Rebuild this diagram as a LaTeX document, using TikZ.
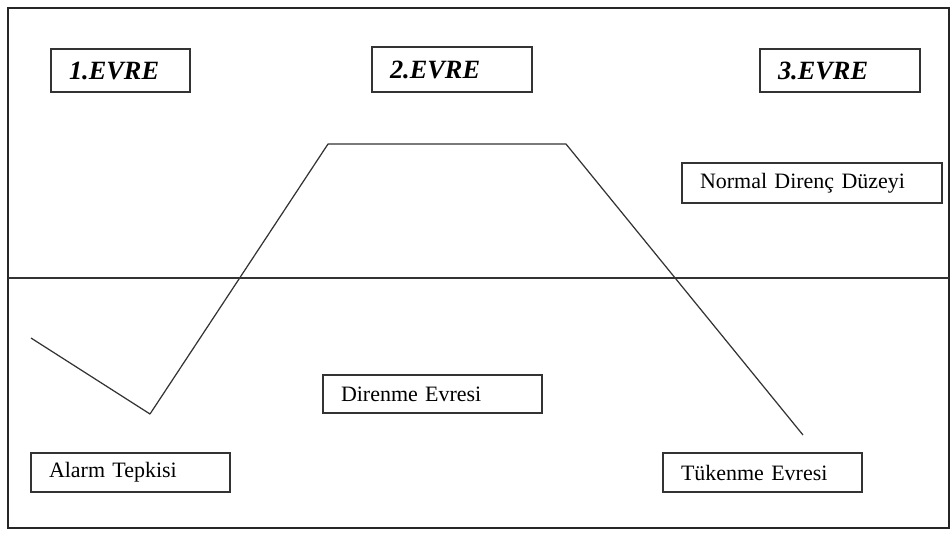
\documentclass[tikz,border=0pt]{standalone}
\usepackage{fontspec}
\setmainfont{Liberation Serif}
\usepackage{xcolor}

\begin{document}
\begin{tikzpicture}[x=0.02cm,y=-0.02cm]
	\tikzstyle{every node}+=[inner ysep=0pt]
	\tikzstyle{kutu}=[draw=black!80, line width=0.8pt, inner xsep=0.36cm, align=left, font=\fontsize{12.5}{14}\selectfont]
	\tikzstyle{evre}=[kutu, font=\fontsize{15}{17}\selectfont\bfseries\itshape]
	\useasboundingbox (0,0) rectangle (950,532);
	\draw [black!85, line width=1.2pt] (8,8) rectangle (949,528);
	\draw [black!80, line width=0.6pt] (8,278) -- (949,278);
	\draw (120.5,70.5) node [evre, text width=2.06cm, minimum height=0.86cm] (e1) {1.EVRE};
	\draw (452,69.5) node [evre, text width=2.48cm, minimum height=0.9cm] (e2) {2.EVRE};
	\draw (840,70.5) node [evre, text width=2.48cm, minimum height=0.86cm] (e3) {3.EVRE};
	\draw (812,183) node [kutu, text width=4.48cm, minimum height=0.8cm] (normal) {Normal Direnç Düzeyi};
	\draw (432.5,394) node [kutu, text width=3.66cm, minimum height=0.76cm] (direnme) {Direnme Evresi};
	\draw (130.5,472.5) node [kutu, text width=3.26cm, minimum height=0.78cm] (alarm) {Alarm Tepkisi};
	\draw (762.5,472.5) node [kutu, text width=3.26cm, minimum height=0.78cm] (tukenme) {Tükenme Evresi};
	\coordinate (p0) at (31,338);
	\coordinate (p1) at (150,414);
	\coordinate (p2) at (328,144);
	\coordinate (p3) at (566,144);
	\coordinate (p4) at (803,435);
	\draw [black!80, line width=0.7pt, line join=round] (p0) -- (p1) -- (p2) -- (p3) -- (p4);
\end{tikzpicture}
\end{document}
